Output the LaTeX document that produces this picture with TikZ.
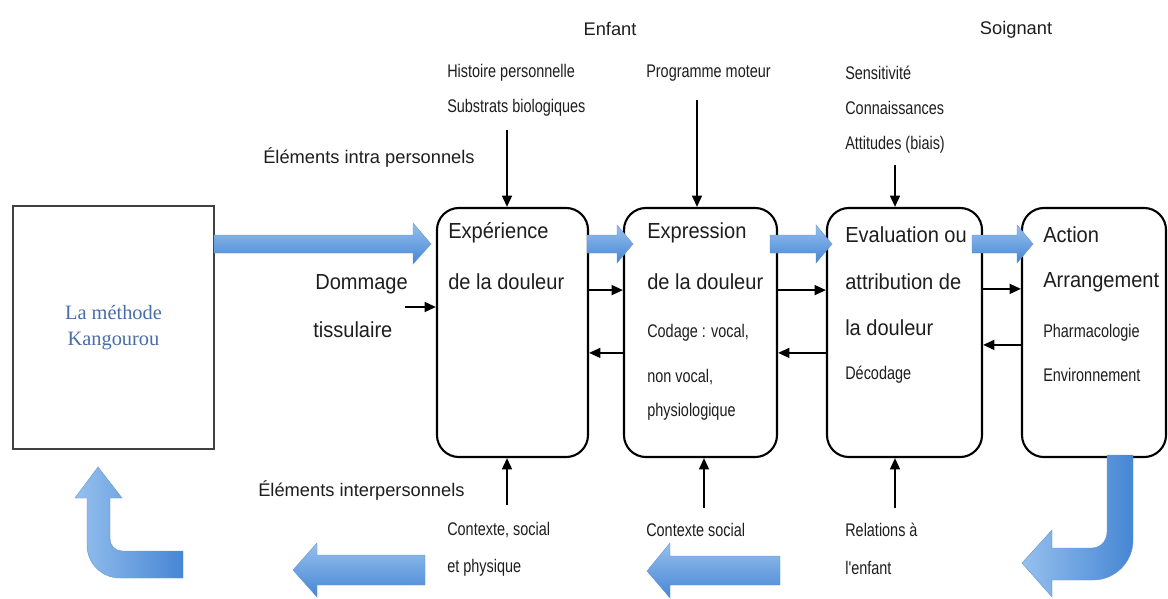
\documentclass[tikz,border=0pt]{standalone}
\usepackage{fontspec}
\setmainfont{Liberation Sans}
\newfontfamily\kgserif{Liberation Serif}
\newfontfamily\bigsans[FakeStretch=0.92]{Liberation Sans}
\newfontfamily\condsans[FakeStretch=0.79]{Liberation Sans}
\usetikzlibrary{arrows.meta}

\definecolor{kgblue}{RGB}{72,110,168}
\definecolor{arrlight}{RGB}{150,192,238}
\definecolor{arrdark}{RGB}{70,134,212}
\definecolor{arredge}{RGB}{105,150,205}
\definecolor{txt}{RGB}{30,30,30}

\begin{document}
\begin{tikzpicture}[
    x=0.025cm, y=-0.025cm,
    stage/.style={draw, line width=1.5pt, rounded corners=0.55cm, inner sep=0},
    big/.style={anchor=west, inner sep=0, text=txt, font=\bigsans\fontsize{15.5}{18}\selectfont},
    mid/.style={anchor=west, inner sep=0, text=txt, font=\fontsize{13}{15}\selectfont},
    small/.style={anchor=west, inner sep=0, text=txt, font=\condsans\fontsize{13}{15}\selectfont},
    link/.style={line width=1.3pt, -{Triangle[length=8pt,width=7pt]}},
    flow/.style={draw=arredge, line width=0.3pt, top color=arrlight, bottom color=arrdark},
    bentflow/.style={draw=arredge, line width=0.3pt, left color=arrlight, right color=arrdark}
    ]
    \useasboundingbox (0,0) rectangle (1168,598);
    \fill[white] (0,0) rectangle (1168,598);

    % left box
    \node[draw=black!75, line width=0.9pt, minimum width=5.025cm, minimum height=6.075cm,
      align=center, text=kgblue, font=\kgserif\fontsize{14.5}{18.5}\selectfont]
      (kg) at (113.5,327.5) {La méthode\\Kangourou};

    % the four stages
    \node[stage, minimum width=3.775cm, minimum height=6.225cm] (exp) at (512.5,332.5) {};
    \node[stage, minimum width=3.825cm, minimum height=6.225cm] (expr) at (700.5,332.5) {};
    \node[stage, minimum width=3.875cm, minimum height=6.225cm] (eval) at (904.5,332.5) {};
    \node[stage, minimum width=3.6cm, minimum height=6.225cm] (act) at (1094,332.5) {};

    \node[big] (exp1) at (448,233) {Expérience};
    \node[big] (exp2) at (448,282) {de la douleur};
    \node[big] (expr1) at (647,233) {Expression};
    \node[big] (expr2) at (647,282) {de la douleur};
    \node[small] (expr3) at (647,333) {Codage : vocal,};
    \node[small] (expr4) at (647,377) {non vocal,};
    \node[small] (expr5) at (647,412) {physiologique};
    \node[big] (eval1) at (845,235) {Evaluation ou};
    \node[big] (eval2) at (845,282) {attribution de};
    \node[big] (eval3) at (845,328) {la douleur};
    \node[small] (eval4) at (845,375) {Décodage};
    \node[big] (act1) at (1043,235) {Action};
    \node[big] (act2) at (1043,282) {Arrangement};
    \node[small] (act3) at (1043,333) {Pharmacologie};
    \node[small] (act4) at (1043,375) {Environnement};

    % headings and outside labels
    \node[mid, anchor=center] (enf) at (610,29) {Enfant};
    \node[mid, anchor=center] (soi) at (1016,30) {Soignant};
    \node[small] (hist) at (447,73) {Histoire personnelle};
    \node[small] (bio) at (447,108) {Substrats biologiques};
    \node[small] (prog) at (646,73) {Programme moteur};
    \node[small] (sens) at (845,73) {Sensitivité};
    \node[small] (conn) at (845,108) {Connaissances};
    \node[small] (att) at (845,145) {Attitudes (biais)};
    \node[mid] (intra) at (263,157) {Éléments intra personnels};
    \node[big] (dom) at (315,284) {Dommage};
    \node[big] (tis) at (313,330) {tissulaire};
    \node[mid] (inter) at (258,490) {Éléments interpersonnels};
    \node[small] (ctx1) at (447,530) {Contexte, social};
    \node[small] (ctx1b) at (447,568) {et physique};
    \node[small] (ctx2) at (646,530) {Contexte social};
    \node[small] (rel) at (845,530) {Relations à};
    \node[small] (relb) at (845,568) {l'enfant};

    % black arrows
    \coordinate (in1) at (507,130);
    \coordinate (in2) at (697,100);
    \coordinate (in3) at (895,165);
    \coordinate (out1) at (507,505);
    \coordinate (out2) at (704,508);
    \coordinate (out3) at (895,508);
    \coordinate (dmg) at (405,307);
    \draw[link] (in1) -- (in1 |- exp.north);
    \draw[link] (in2) -- (in2 |- expr.north);
    \draw[link] (in3) -- (in3 |- eval.north);
    \draw[link] (out1) -- (out1 |- exp.south);
    \draw[link] (out2) -- (out2 |- expr.south);
    \draw[link] (out3) -- (out3 |- eval.south);
    \draw[link] (dmg) -- (dmg -| exp.west);

    \draw[link] ([yshift=1.06cm]exp.east) -- ([yshift=1.06cm]expr.west);
    \draw[link] ([yshift=-0.51cm]expr.west) -- ([yshift=-0.51cm]exp.east);
    \draw[link] ([yshift=1.06cm]expr.east) -- ([yshift=1.06cm]eval.west);
    \draw[link] ([yshift=-0.51cm]eval.west) -- ([yshift=-0.51cm]expr.east);
    \draw[link] ([yshift=1.09cm]eval.east) -- ([yshift=1.09cm]act.west);
    \draw[link] ([yshift=-0.31cm]act.west) -- ([yshift=-0.31cm]eval.east);

    % blue block arrows
    \path[flow] (214,235) -- (413,235) -- (413,223) -- (431,244) -- (413,264) -- (413,253) -- (214,253) -- cycle;
    \path[flow] (587,235) -- (617,235) -- (617,225) -- (633,244) -- (617,263) -- (617,253) -- (587,253) -- cycle;
    \path[flow] (770,235) -- (816,235) -- (816,225) -- (832,244) -- (816,263) -- (816,253) -- (770,253) -- cycle;
    \path[flow] (972,235) -- (1017,235) -- (1017,225) -- (1033,244) -- (1017,263) -- (1017,253) -- (972,253) -- cycle;
    \path[flow] (780,556) -- (670,556) -- (670,543) -- (647,571) -- (670,598) -- (670,585) -- (780,585) -- cycle;
    \path[flow] (425,555) -- (317,555) -- (317,543) -- (293,570) -- (317,597) -- (317,585) -- (425,585) -- cycle;
    \path[bentflow] (183,551) -- (122,551) to[out=180,in=-90] (110,539) -- (110,498) -- (122,498)
      -- (98,467) -- (75,498) -- (87,498) -- (87,545) to[out=-90,in=180] (120,578) -- (183,578) -- cycle;
    \path[bentflow] (1107,455) -- (1133,455) -- (1133,540) to[out=-90,in=0] (1093,580) -- (1052,580)
      -- (1052,597) -- (1022,563) -- (1052,530) -- (1052,548) -- (1092,548) to[out=0,in=-90] (1107,532) -- cycle;
  \end{tikzpicture}
\end{document}
